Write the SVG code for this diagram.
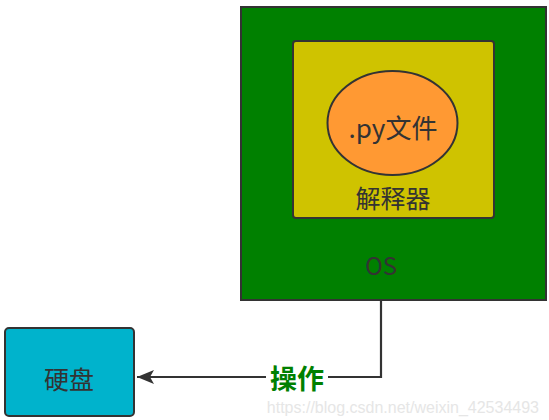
<svg xmlns="http://www.w3.org/2000/svg" width="549" height="420" viewBox="0 0 549 420">
<defs>
<style>
.lbl{font-family:"Noto Sans CJK SC","Liberation Sans",sans-serif;fill:#333;text-anchor:middle;dominant-baseline:central}
.edge{fill:none;stroke:#333;stroke-width:2.2}
</style>
<marker id="arr" markerWidth="18" markerHeight="14" refX="17" refY="7" orient="auto" markerUnits="userSpaceOnUse" viewBox="0 0 18 14">
<path d="M0,0 L17,7 L0,14 L4,7 Z" fill="#333"/>
</marker>
</defs>
<rect width="549" height="420" fill="#fff"/>
<g id="os">
<rect x="241" y="7" width="305" height="293" fill="#008000" stroke="#333" stroke-width="2"/>
<text class="lbl" x="381" y="264" font-size="24">OS</text>
</g>
<g id="interpreter">
<rect x="293" y="41" width="201" height="177" rx="3" fill="#CFC300" stroke="#333" stroke-width="2"/>
<text class="lbl" x="393" y="197" font-size="25">解释器</text>
</g>
<g id="pyfile">
<ellipse cx="392.5" cy="123" rx="65" ry="52" fill="#FF9933" stroke="#333" stroke-width="2"/>
<text class="lbl" x="393" y="126" font-size="26">.py文件</text>
</g>
<g id="disk">
<rect x="5" y="328" width="129" height="88" rx="4" fill="#00B3CC" stroke="#333" stroke-width="2"/>
<text class="lbl" x="69" y="378" font-size="25">硬盘</text>
</g>
<g id="connectors">
<path class="edge" d="M381,300 V377 H137" marker-end="url(#arr)"/>
<rect x="266" y="362" width="62" height="30" fill="#fff"/>
<text x="297" y="377" font-size="27" font-weight="bold" fill="#008000" text-anchor="middle" dominant-baseline="central" font-family="'Noto Sans CJK SC','Liberation Sans',sans-serif">操作</text>
</g>
<text x="539" y="413" font-size="16" fill="#e6e6e6" text-anchor="end" font-family="'Liberation Sans',sans-serif">https://blog.csdn.net/weixin_42534493</text>
</svg>
